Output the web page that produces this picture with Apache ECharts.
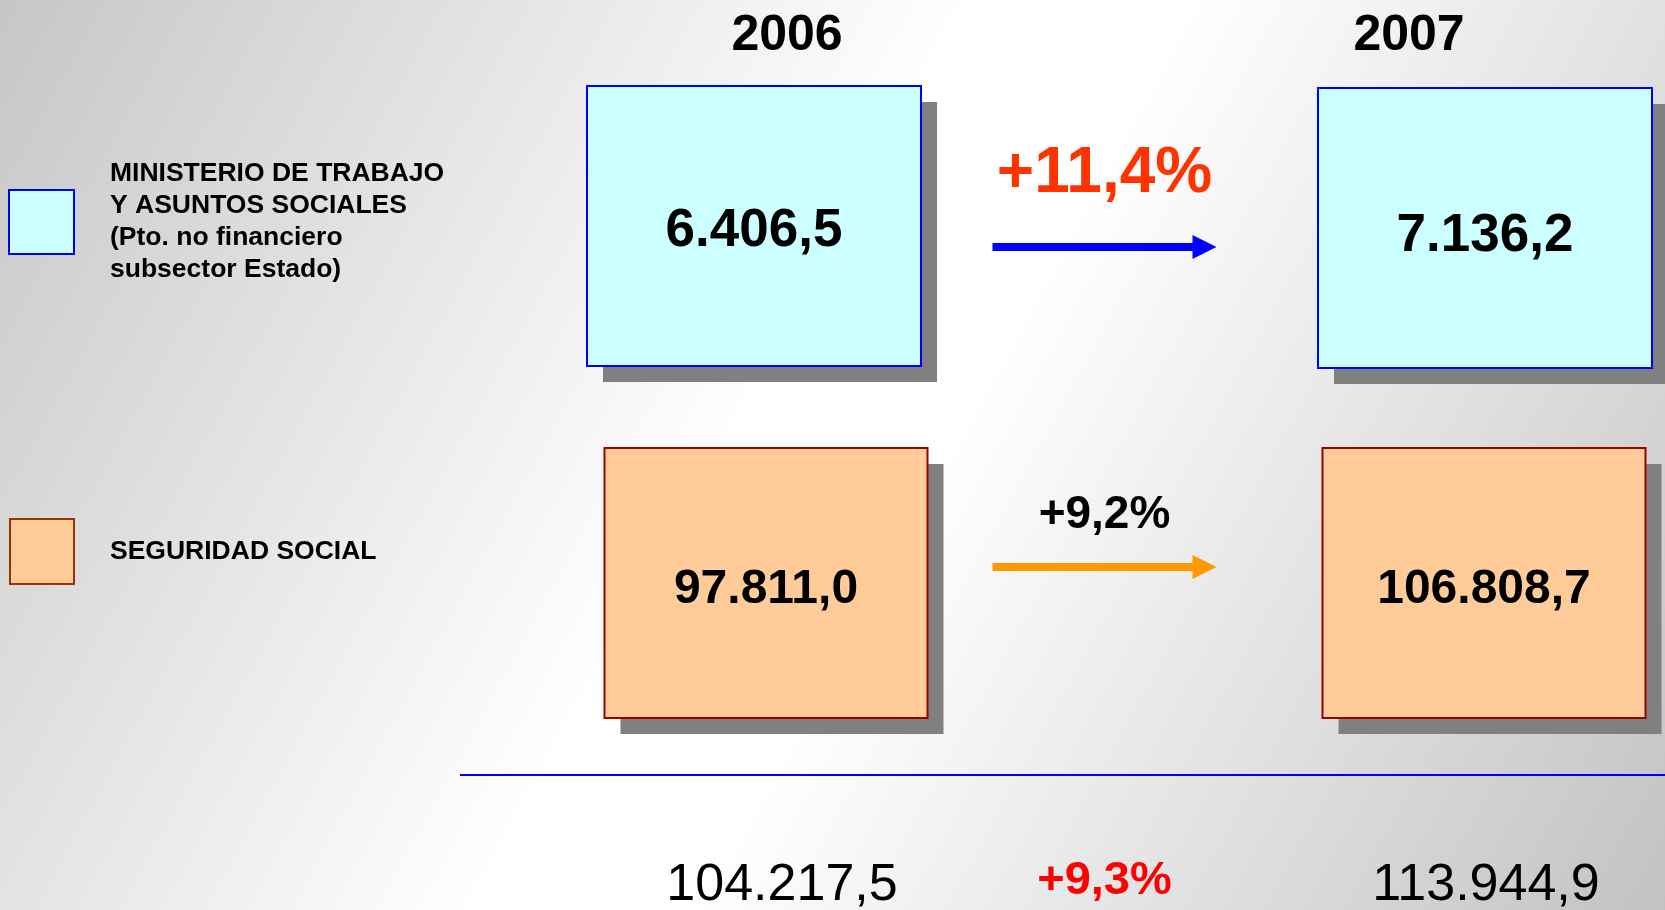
<!DOCTYPE html>
<html>
<head>
<meta charset="utf-8">
<script src="https://cdn.jsdelivr.net/npm/echarts@6/dist/echarts.min.js"></script>
<style>
html, body { margin: 0; padding: 0; }
#chart { width: 1665px; height: 910px; }
</style>
</head>
<body>
<div id="chart"></div>
<script>
var FONT = 'Liberation Sans, Arial, sans-serif';

// datos (millones de euros)
var years = ['2006', '2007'];
var rows = ['MTAS', 'SS'];
var rowLabels = [
    'MINISTERIO DE TRABAJO\nY ASUNTOS SOCIALES\n(Pto. no financiero\nsubsector Estado)',
    'SEGURIDAD SOCIAL'
];
var mtas = [6406.5, 7136.2];
var ss = [97811.0, 106808.7];
var variacion = [11.4, 9.2];
var totales = [104217.5, 113944.9];
var variacionTotal = [9.3];

// layout de cada fila
var boxLayout = [
    {w: 334, h: 280, dx: [-6, 0], dy: [0, 2], font: 53, textDy: [5, 8], fill: '#CCFFFF', stroke: '#0000FF'},
    {w: 323, h: 270, dx: [6, -1], dy: [0, 0], font: 48, textDy: [7, 7], fill: '#FFCC99', stroke: '#990000'}
];
var arrowLayout = [
    {dy: 21, textDy: -52, font: 64, textColor: '#FF3300', color: '#0000FF'},
    {dy: -16, textDy: -68, font: 46, textColor: '#000000', color: '#FF9900'}
];

function fmtNum(v) {
    var parts = v.toFixed(1).split('.');
    return parts[0].replace(/\B(?=(\d{3})+(?!\d))/g, '.') + ',' + parts[1];
}
function fmtPct(v) {
    return '+' + v.toFixed(1).replace('.', ',') + '%';
}

function renderBox(row) {
    return function (params, api) {
        var col = api.value(0);
        var p = api.coord([col, row]);
        var lay = boxLayout[row];
        var cx = p[0] + lay.dx[col], cy = p[1] + lay.dy[col];
        var x = cx - lay.w / 2, y = cy - lay.h / 2;
        return {
            type: 'group',
            children: [
                {type: 'rect', shape: {x: x + 16, y: y + 16, width: lay.w, height: lay.h}, style: {fill: '#808080'}},
                {type: 'rect', shape: {x: x, y: y, width: lay.w, height: lay.h},
                    style: {fill: lay.fill, stroke: lay.stroke, lineWidth: 2}},
                {type: 'text', x: cx, y: cy + lay.textDy[col],
                    style: {text: fmtNum(api.value(2)), fontSize: lay.font, fontWeight: 'bold', fontFamily: FONT,
                        fill: '#000', align: 'center', verticalAlign: 'middle'}}
            ]
        };
    };
}

function renderArrow(params, api) {
    var row = api.value(0);
    var p0 = api.coord([0, row]);
    var p1 = api.coord([1, row]);
    var lay = arrowLayout[row];
    var cx = (p0[0] + p1[0]) / 2 - 18;
    var y = p0[1] + lay.dy;
    var x1 = cx - 112, x2 = cx + 112;
    return {
        type: 'group',
        children: [
            {type: 'rect', shape: {x: x1, y: y - 4, width: x2 - x1 - 22, height: 8}, style: {fill: lay.color}},
            {type: 'polygon', shape: {points: [[x2 - 24, y - 12], [x2, y], [x2 - 24, y + 12]]}, style: {fill: lay.color}},
            {type: 'text', x: cx, y: p0[1] + lay.textDy,
                style: {text: fmtPct(api.value(1)), fontSize: lay.font, fontWeight: 'bold', fontFamily: FONT,
                    fill: lay.textColor, align: 'center', verticalAlign: 'middle'}}
        ]
    };
}

var totalDx = [22, 1];
function renderTotal(params, api) {
    var col = api.value(0);
    var p = api.coord([col, 1]);
    return {
        type: 'text', x: p[0] + totalDx[col], y: p[1] + 303,
        style: {text: fmtNum(api.value(1)), fontSize: 52, fontFamily: FONT,
            fill: '#000', align: 'center', verticalAlign: 'middle'}
    };
}

function renderTotalPct(params, api) {
    var p0 = api.coord([0, 1]);
    var p1 = api.coord([1, 1]);
    return {
        type: 'text', x: (p0[0] + p1[0]) / 2 - 18, y: p0[1] + 298,
        style: {text: fmtPct(api.value(0)), fontSize: 47, fontWeight: 'bold', fontFamily: FONT,
            fill: '#FF0000', align: 'center', verticalAlign: 'middle'}
    };
}

var myChart = echarts.init(document.getElementById('chart'));

var legendText = {
    fontSize: 26.5, fontWeight: 'bold', fontFamily: FONT, color: '#000',
    lineHeight: 32, padding: [18, 0, 0, 31]
};
var yearStyle = {fontSize: 50, fontWeight: 'bold', fontFamily: FONT, color: '#000', lineHeight: 50};

var option = {
    backgroundColor: new echarts.graphic.LinearGradient(0, 0, 1, 1, [
        {offset: 0, color: '#C6C6C6'},
        {offset: 0.45, color: '#FFFFFF'},
        {offset: 0.55, color: '#FFFFFF'},
        {offset: 1, color: '#C2C2C2'}
    ]),
    animation: false,
    legend: [
        {
            data: [{name: 'MTAS', icon: 'rect', itemStyle: {color: '#CCFFFF', borderColor: '#0000FF', borderWidth: 2}}],
            left: 8, top: 149, padding: 0, itemWidth: 65, itemHeight: 64,
            selectedMode: false, textStyle: legendText,
            formatter: function (name) { return rowLabels[rows.indexOf(name)]; }
        },
        {
            data: [{name: 'SS', icon: 'rect', itemStyle: {color: '#FFCC99', borderColor: '#993300', borderWidth: 2}}],
            left: 9, top: 518, padding: 0, itemWidth: 64, itemHeight: 65,
            selectedMode: false, textStyle: legendText,
            formatter: function (name) { return rowLabels[rows.indexOf(name)]; }
        }
    ],
    grid: {left: 760, right: 180, top: 226, bottom: 327},
    xAxis: {
        type: 'category',
        data: years,
        position: 'top',
        boundaryGap: false,
        axisLine: {show: false},
        axisTick: {show: false},
        splitLine: {show: false},
        axisLabel: {
            interval: 0,
            margin: 165,
            formatter: function (v, i) { return '{y' + i + '|' + v + '}'; },
            rich: {
                y0: Object.assign({padding: [0, 0, 0, 54]}, yearStyle),
                y1: Object.assign({padding: [0, 152, 0, 0]}, yearStyle)
            }
        }
    },
    yAxis: {
        type: 'category',
        data: rows,
        inverse: true,
        boundaryGap: false,
        show: false
    },
    graphic: [
        {type: 'line', shape: {x1: 460, y1: 775, x2: 1665, y2: 775}, style: {stroke: '#0000FF', lineWidth: 2}, z: 10}
    ],
    series: [
        {
            name: 'MTAS', type: 'custom', renderItem: renderBox(0),
            itemStyle: {color: '#CCFFFF'},
            encode: {x: 0, y: 1},
            data: mtas.map(function (v, i) { return [i, 0, v]; })
        },
        {
            name: 'SS', type: 'custom', renderItem: renderBox(1),
            itemStyle: {color: '#FFCC99'},
            encode: {x: 0, y: 1},
            data: ss.map(function (v, i) { return [i, 1, v]; })
        },
        {
            name: 'Variación', type: 'custom', renderItem: renderArrow,
            data: variacion.map(function (v, i) { return [i, v]; })
        },
        {
            name: 'Total', type: 'custom', renderItem: renderTotal,
            data: totales.map(function (v, i) { return [i, v]; })
        },
        {
            name: 'Variación total', type: 'custom', renderItem: renderTotalPct,
            data: variacionTotal.map(function (v) { return [v]; })
        }
    ]
};
myChart.setOption(option);
</script>
</body>
</html>
